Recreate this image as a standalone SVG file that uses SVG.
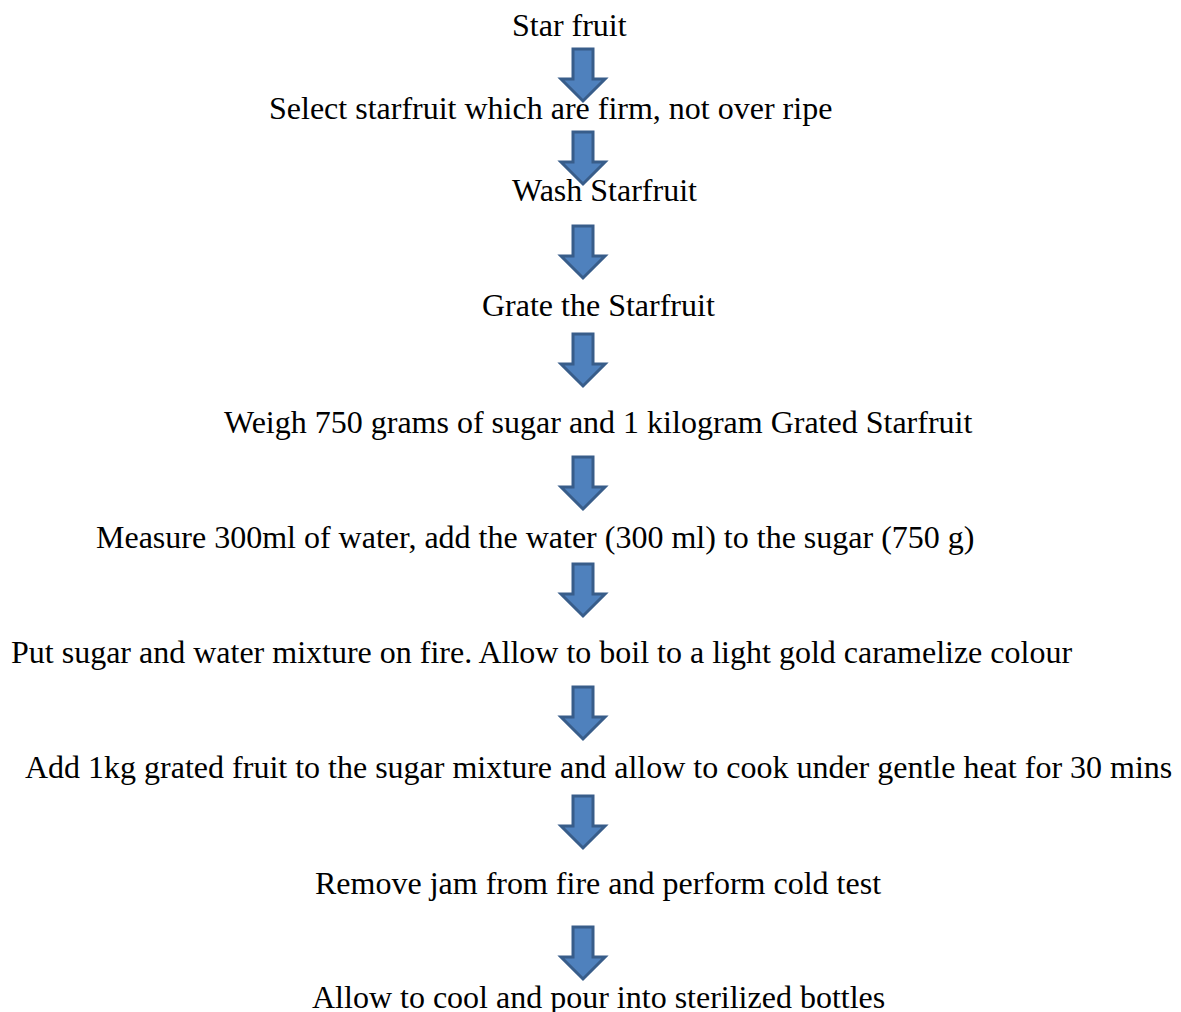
<svg xmlns="http://www.w3.org/2000/svg" width="1181" height="1012" viewBox="0 0 1181 1012">
<defs>
<style>
text{font-family:"Liberation Serif","Times New Roman",serif;font-size:32px;fill:#000}
.arr{fill:#4f81bd;stroke:#385d8a;stroke-width:3;stroke-linejoin:miter}
</style>
<path id="a" class="arr" d="M-10,0 H10 V30 H22 L0,52 L-22,30 H-10 Z"/>
</defs>
<rect width="1181" height="1012" fill="#fff"/>
<g id="connectors">
<use href="#a" x="583" y="49"/>
<use href="#a" x="583" y="132"/>
<use href="#a" x="583" y="226"/>
<use href="#a" x="583" y="334"/>
<use href="#a" x="583" y="457"/>
<use href="#a" x="583" y="564"/>
<use href="#a" x="583" y="687"/>
<use href="#a" x="583" y="796"/>
<use href="#a" x="583" y="927"/>
</g>
<g id="n1"><text x="512" y="36">Star fruit</text></g>
<g id="n2"><text x="269" y="119">Select starfruit which are firm, not over ripe</text></g>
<g id="n3"><text x="512" y="201">Wash Starfruit</text></g>
<g id="n4"><text x="482" y="316">Grate the Starfruit</text></g>
<g id="n5"><text x="224" y="433">Weigh 750 grams of sugar and 1 kilogram Grated Starfruit</text></g>
<g id="n6"><text x="96" y="548">Measure 300ml of water, add the water (300 ml) to the sugar (750 g)</text></g>
<g id="n7"><text x="11" y="663">Put sugar and water mixture on fire. Allow to boil to a light gold caramelize colour</text></g>
<g id="n8"><text x="25" y="778">Add 1kg grated fruit to the sugar mixture and allow to cook under gentle heat for 30 mins</text></g>
<g id="n9"><text x="315" y="894">Remove jam from fire and perform cold test</text></g>
<g id="n10"><text x="312" y="1008">Allow to cool and pour into sterilized bottles</text></g>
</svg>
